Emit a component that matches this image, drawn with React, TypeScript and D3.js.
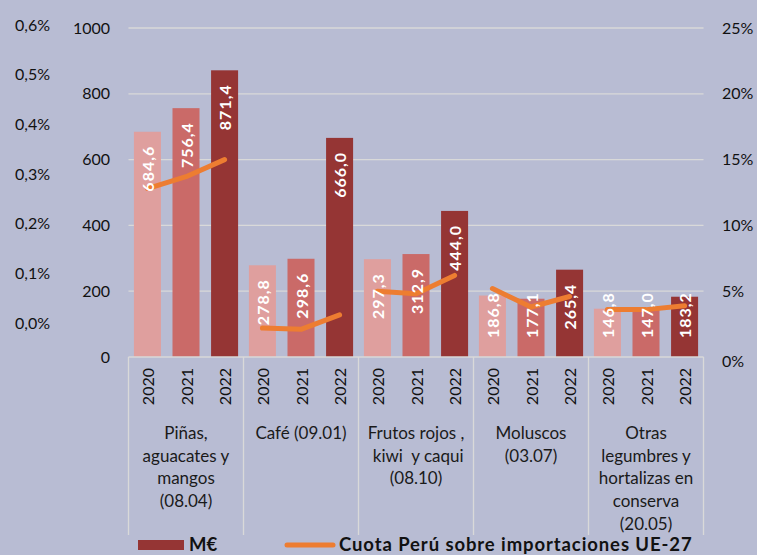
import React, { useEffect, useRef } from 'react';
import * as d3 from 'd3';

const categories = [
  ['Piñas,', 'aguacates y', 'mangos', '(08.04)'],
  ['Café (09.01)'],
  ['Frutos rojos ,', ' kiwi  y caqui', '(08.10)'],
  ['Moluscos', '(03.07)'],
  ['Otras', 'legumbres y', 'hortalizas en', 'conserva', '(20.05)'],
];
const years = ['2020', '2021', '2022'];
const values2020 = [684.6, 278.8, 297.3, 186.8, 146.8];
const values2021 = [756.4, 298.6, 312.9, 177.1, 147.0];
const values2022 = [871.4, 666.0, 444.0, 265.4, 183.2];
// cuota Perú (%)
const share2020 = [12.8, 2.2, 5.0, 5.2, 3.6];
const share2021 = [13.7, 2.1, 4.8, 3.8, 3.6];
const share2022 = [15.0, 3.2, 6.2, 4.6, 3.9];
const leftTicks = [0, 200, 400, 600, 800, 1000];
const rightTicks = [0, 5, 10, 15, 20, 25];
const extraTicks = [0, 0.1, 0.2, 0.3, 0.4, 0.5, 0.6];

const yearColors = ['#DF9F9E', '#CA6A68', '#953534'];
const FONT = 'Lato, "Open Sans", sans-serif';

const App: React.FC = () => {
  const svgRef = useRef<SVGSVGElement | null>(null);

  useEffect(() => {
    if (!svgRef.current) return;
    const width = 757;
    const height = 555;
    const svg = d3.select(svgRef.current)
      .attr('width', width)
      .attr('height', height)
      .style('font-family', FONT);
    svg.selectAll('*').remove();

    svg.append('rect').attr('width', width).attr('height', height).attr('fill', '#B8BCD3');

    const x0 = d3.scaleBand<number>()
      .domain(d3.range(categories.length))
      .range([128.5, 703.5]);
    const x1 = d3.scaleBand<string>()
      .domain(years)
      .range([0, x0.bandwidth()])
      .paddingInner(0.3)
      .paddingOuter(0.14);
    const y = d3.scaleLinear().domain([0, 1000]).range([357, 28]);
    const yR = d3.scaleLinear().domain([0, 25]).range([357, 28]);
    const yX = d3.scaleLinear().domain([0, 0.6]).range([323, 25]);

    // gridlines
    svg.append('g')
      .selectAll('line')
      .data(leftTicks.filter(d => d > 0))
      .join('line')
      .attr('x1', 128.5).attr('x2', 703.5)
      .attr('y1', d => y(d)).attr('y2', d => y(d))
      .attr('stroke', '#D9D9D9').attr('stroke-width', 1.3);

    // left axis labels
    svg.append('g')
      .selectAll('text')
      .data(leftTicks)
      .join('text')
      .attr('x', 110)
      .attr('y', d => y(d))
      .attr('dy', '0.35em')
      .attr('text-anchor', 'end')
      .attr('font-size', 16)
      .attr('fill', '#111')
      .text(d => d);

    // extra percentage axis
    svg.append('g')
      .selectAll('text')
      .data(extraTicks)
      .join('text')
      .attr('x', 50)
      .attr('y', d => yX(d))
      .attr('dy', '0.35em')
      .attr('text-anchor', 'end')
      .attr('font-size', 16)
      .attr('fill', '#111')
      .text(d => d.toFixed(1).replace('.', ',') + '%');

    // right axis labels
    svg.append('g')
      .selectAll('text')
      .data(rightTicks)
      .join('text')
      .attr('x', 722)
      .attr('y', d => yR(d) + (d === 0 ? 4 : 0))
      .attr('dy', '0.35em')
      .attr('font-size', 16)
      .attr('fill', '#111')
      .text(d => d + '%');

    const series = [values2020, values2021, values2022];
    const shares = [share2020, share2021, share2022];

    // bars
    const groups = svg.append('g')
      .selectAll('g')
      .data(categories.map((_, i) => i))
      .join('g')
      .attr('transform', i => `translate(${x0(i)},0)`);

    groups.selectAll('rect')
      .data(i => years.map((yr, k) => ({ yr, k, v: series[k][i] })))
      .join('rect')
      .attr('x', d => x1(d.yr)!)
      .attr('width', x1.bandwidth())
      .attr('y', d => y(d.v))
      .attr('height', d => y(0) - y(d.v))
      .attr('fill', d => yearColors[d.k]);

    // share lines
    const line = d3.line<{ yr: string; s: number }>()
      .x(d => x1(d.yr)! + x1.bandwidth() / 2)
      .y(d => yR(d.s));
    groups.append('path')
      .attr('d', i => line(years.map((yr, k) => ({ yr, s: shares[k][i] }))))
      .attr('fill', 'none')
      .attr('stroke', '#ED7D31')
      .attr('stroke-width', 5)
      .attr('stroke-linecap', 'round')
      .attr('stroke-linejoin', 'round');

    // value labels
    groups.selectAll('text.val')
      .data(i => years.map((yr, k) => ({ yr, k, v: series[k][i] })))
      .join('text')
      .attr('class', 'val')
      .attr('font-size', 16)
      .attr('font-weight', 700)
      .attr('letter-spacing', 1)
      .attr('fill', '#fff')
      .attr('text-anchor', 'end')
      .attr('dominant-baseline', 'central')
      .text(d => d.v.toFixed(1).replace('.', ','))
      .each(function (d) {
        const len = (this as SVGTextElement).getComputedTextLength();
        const top = Math.min(y(d.v) + 14, 338 - len);
        const cx = x1(d.yr)! + x1.bandwidth() / 2;
        d3.select(this).attr('transform', `translate(${cx},${top}) rotate(-90)`);
      });

    // x axis
    svg.append('line')
      .attr('x1', 128.5).attr('x2', 703.5)
      .attr('y1', 357).attr('y2', 357)
      .attr('stroke', '#D9D9D9').attr('stroke-width', 1.3);
    svg.append('g')
      .selectAll('line')
      .data(d3.range(categories.length + 1))
      .join('line')
      .attr('x1', i => (i < categories.length ? x0(i)! : x0.range()[1]))
      .attr('x2', i => (i < categories.length ? x0(i)! : x0.range()[1]))
      .attr('y1', 357).attr('y2', 535)
      .attr('stroke', '#D9D9D9').attr('stroke-width', 1.3);

    // year labels
    groups.selectAll('text.yr')
      .data(years)
      .join('text')
      .attr('class', 'yr')
      .attr('font-size', 16)
      .attr('fill', '#111')
      .attr('text-anchor', 'end')
      .attr('dominant-baseline', 'central')
      .attr('transform', d => `translate(${x1(d)! + x1.bandwidth() / 2},368) rotate(-90)`)
      .text(d => d);

    // category labels
    groups.append('text')
      .attr('font-size', 17)
      .attr('fill', '#1a1a1a')
      .attr('text-anchor', 'middle')
      .selectAll('tspan')
      .data(i => categories[i])
      .join('tspan')
      .attr('x', x0.bandwidth() / 2)
      .attr('y', (_, j) => 439 + j * 22.7)
      .style('white-space', 'pre')
      .text(d => d);

    // legend
    const legend = svg.append('g')
      .attr('font-size', 18.5)
      .attr('font-weight', 700)
      .attr('letter-spacing', 0.9)
      .attr('fill', '#111');
    legend.append('rect').attr('x', 138).attr('y', 540).attr('width', 46).attr('height', 10).attr('fill', yearColors[2]);
    legend.append('text').attr('x', 189).attr('y', 551).attr('letter-spacing', 0).text('M€');
    legend.append('line')
      .attr('x1', 287).attr('x2', 333).attr('y1', 545).attr('y2', 545)
      .attr('stroke', '#ED7D31').attr('stroke-width', 5).attr('stroke-linecap', 'round');
    legend.append('text').attr('x', 339).attr('y', 551).text('Cuota Perú sobre importaciones UE-27');
  }, []);

  return (
    <div style={{ position: 'absolute', left: 0, top: 0 }}>
      <svg ref={svgRef} style={{ display: 'block' }}></svg>
    </div>
  );
};

export default App;
